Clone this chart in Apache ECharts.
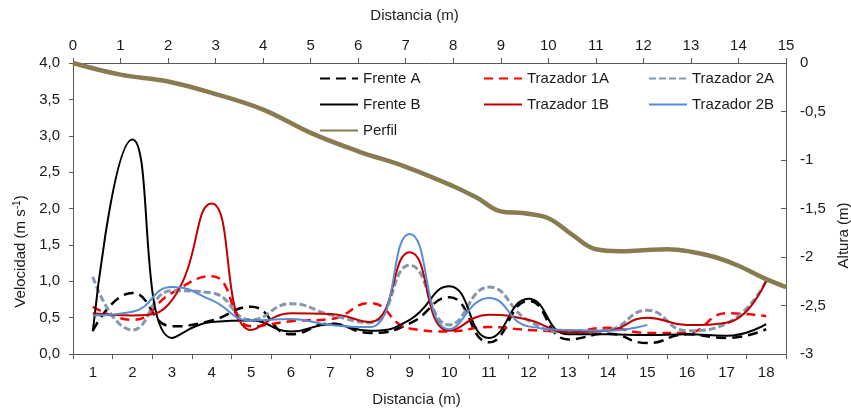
<!DOCTYPE html>
<html>
<head>
<meta charset="utf-8">
<script src="https://cdn.jsdelivr.net/npm/echarts@6/dist/echarts.min.js"></script>
<style>html,body{margin:0;padding:0;background:#fff}#c{width:851px;height:409px}</style>
</head>
<body>
<div id="c"></div>
<script>
const categories = ['1','2','3','4','5','6','7','8','9','10','11','12','13','14','15','16','17','18'];
const frenteA     = [0.32, 0.84, 0.38, 0.46, 0.65, 0.27, 0.42, 0.29, 0.42, 0.78, 0.16, 0.73, 0.20, 0.28, 0.15, 0.27, 0.22, 0.34];
const trazador1A  = [0.65, 0.47, 0.84, 1.07, 0.38, 0.45, 0.48, 0.70, 0.35, 0.31, 0.37, 0.33, 0.31, 0.36, 0.29, 0.29, 0.56, 0.52];
const trazador2A  = [1.06, 0.33, 0.87, 0.84, 0.47, 0.69, 0.54, 0.43, 1.22, 0.40, 0.92, 0.46, 0.30, 0.33, 0.60, 0.32, 0.42, 1.00];
const frenteB     = [0.31, 2.95, 0.22, 0.44, 0.46, 0.31, 0.41, 0.32, 0.47, 0.93, 0.22, 0.76, 0.27, 0.27, 0.26, 0.27, 0.25, 0.41];
const trazador1B  = [0.56, 0.53, 0.74, 2.07, 0.33, 0.56, 0.55, 0.44, 1.40, 0.32, 0.54, 0.47, 0.30, 0.32, 0.50, 0.40, 0.43, 1.01];
const trazador2B  = [0.53, 0.58, 0.92, 0.74, 0.46, 0.48, 0.40, 0.37, 1.65, 0.34, 0.77, 0.38, 0.33, 0.32, 0.40, null, null, null];
const perfilDist  = [0, 1, 2, 3, 4, 5, 6, 7, 8, 8.5, 9, 9.5, 10, 10.5, 11, 11.5, 12, 12.5, 13, 13.5, 14, 14.5, 15];
const perfilAlt   = [0, -0.12, -0.19, -0.32, -0.48, -0.72, -0.91, -1.07, -1.27, -1.39, -1.53, -1.55, -1.60, -1.77, -1.92, -1.94, -1.93, -1.92, -1.945, -2.00, -2.09, -2.21, -2.31];
const topTicks = {min: 0, max: 15, interval: 1};
const leftTicks = {min: 0, max: 4, interval: 0.5};
const rightTicks = {min: -3, max: 0, interval: 0.5};

const FONT = 'Liberation Sans';
const FS = 15;
const TXT = '#1a1a1a';
const AX = '#595959';

const chart = echarts.init(document.getElementById('c'), null, {renderer: 'canvas'});

function mk(name, data, color, width, dash) {
  return {
    name, type: 'line', data, xAxisIndex: 0, yAxisIndex: 0,
    smooth: 0.5, symbol: 'none', connectNulls: false,
    lineStyle: {color, width, type: dash || 'solid', cap: 'butt'},
    itemStyle: {color}
  };
}

const legendBase = {
  orient: 'vertical', itemWidth: 38, itemHeight: 14, itemGap: 11, padding: 0,
  itemStyle: {opacity: 0},
  textStyle: {fontFamily: FONT, fontSize: FS, color: TXT}
};

chart.setOption({
  animation: false,
  backgroundColor: '#fff',
  textStyle: {fontFamily: FONT},
  grid: {left: 73, right: 65, top: 63, bottom: 55, containLabel: false, outerBoundsMode: 'none'},
  legend: [
    Object.assign({}, legendBase, {left: 319, top: 71, data: ['Frente A', 'Frente B', 'Perfil']}),
    Object.assign({}, legendBase, {left: 483, top: 71, data: ['Trazador 1A', 'Trazador 1B']}),
    Object.assign({}, legendBase, {left: 648, top: 71, data: ['Trazador 2A', 'Trazador 2B']})
  ],
  xAxis: [
    {
      type: 'category', data: categories, position: 'bottom',
      name: 'Distancia (m)', nameLocation: 'middle', nameGap: 38,
      nameTextStyle: {fontFamily: FONT, fontSize: FS, color: TXT, padding: [0, 26, 0, 0]},
      axisLine: {onZero: false, lineStyle: {color: AX, width: 1}},
      axisTick: {show: true, inside: false, length: 5, lineStyle: {color: AX}},
      axisLabel: {fontFamily: FONT, fontSize: FS, color: TXT, margin: 11},
      splitLine: {show: false}
    },
    {
      type: 'value', position: 'top', min: topTicks.min, max: topTicks.max, interval: topTicks.interval,
      name: 'Distancia (m)', nameLocation: 'middle', nameGap: 40,
      nameTextStyle: {fontFamily: FONT, fontSize: FS, color: TXT, padding: [0, 30, 0, 0]},
      axisLine: {onZero: false, lineStyle: {color: AX, width: 1}},
      axisTick: {show: true, inside: false, length: 5, lineStyle: {color: AX}},
      axisLabel: {fontFamily: FONT, fontSize: FS, color: TXT, margin: 10},
      splitLine: {show: false}
    }
  ],
  yAxis: [
    {
      type: 'value', position: 'left', min: leftTicks.min, max: leftTicks.max, interval: leftTicks.interval,
      name: 'Velocidad (m s{sup|-1})', nameLocation: 'middle', nameGap: 44,
      nameTextStyle: {fontFamily: FONT, fontSize: FS, color: TXT, padding: [0, 86, 0, 0],
        rich: {sup: {fontFamily: FONT, fontSize: 10, color: TXT, verticalAlign: 'top', lineHeight: 17}}},
      axisLine: {show: true, onZero: false, lineStyle: {color: AX, width: 1}},
      axisTick: {show: true, inside: false, length: 4, lineStyle: {color: AX}},
      axisLabel: {fontFamily: FONT, fontSize: FS, color: TXT, margin: 13,
        formatter: v => v.toFixed(1).replace('.', ',')},
      splitLine: {show: false}
    },
    {
      type: 'value', position: 'right', min: rightTicks.min, max: rightTicks.max, interval: rightTicks.interval,
      name: 'Altura (m)', nameLocation: 'middle', nameGap: 47,
      nameTextStyle: {fontFamily: FONT, fontSize: FS, color: TXT, padding: [0, 54, 0, 0]},
      axisLine: {show: true, onZero: false, lineStyle: {color: AX, width: 1}},
      axisTick: {show: true, inside: true, length: 5, lineStyle: {color: AX}},
      axisLabel: {fontFamily: FONT, fontSize: FS, color: TXT, margin: 14,
        formatter: v => String(v).replace('.', ',')},
      splitLine: {show: false}
    }
  ],
  series: [
    mk('Frente A', frenteA, '#000000', 2.5, [10, 6]),
    mk('Trazador 1A', trazador1A, '#ff0000', 2.5, [9, 6]),
    mk('Trazador 2A', trazador2A, '#8497b0', 3, [7, 3]),
    mk('Frente B', frenteB, '#000000', 2),
    mk('Trazador 1B', trazador1B, '#c00000', 2),
    mk('Trazador 2B', trazador2B, '#558ed5', 2),
    {
      name: 'Perfil', type: 'line', xAxisIndex: 1, yAxisIndex: 1,
      data: perfilDist.map((d, i) => [d, perfilAlt[i]]),
      smooth: 0.4, symbol: 'none',
      lineStyle: {color: '#877b4f', width: 4.5},
      itemStyle: {color: '#877b4f'}
    }
  ]
});
</script>
</body>
</html>
